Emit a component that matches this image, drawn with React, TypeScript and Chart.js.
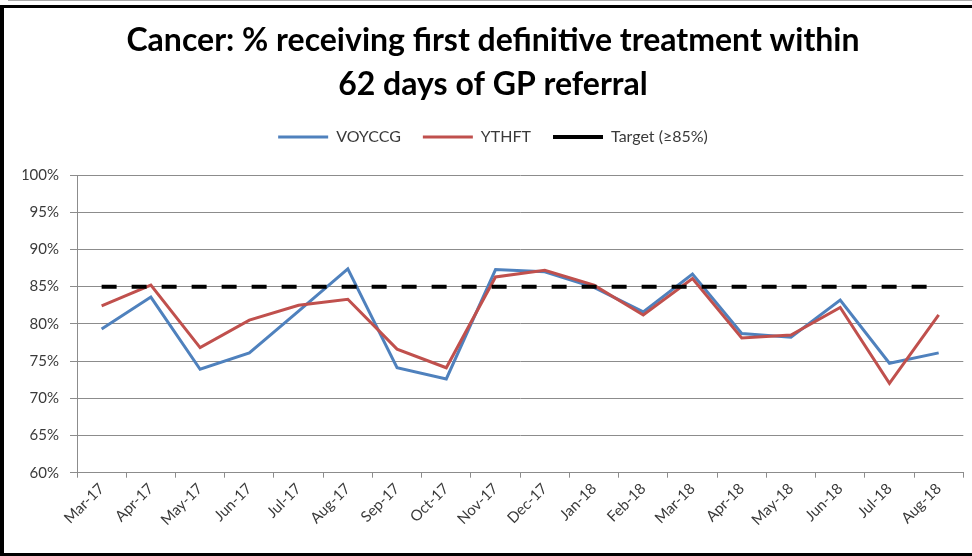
import React, { useEffect, useRef } from 'react';
import { Chart, registerables } from 'chart.js';

Chart.register(...registerables);

const categories = [
  'Mar-17', 'Apr-17', 'May-17', 'Jun-17', 'Jul-17', 'Aug-17', 'Sep-17', 'Oct-17', 'Nov-17',
  'Dec-17', 'Jan-18', 'Feb-18', 'Mar-18', 'Apr-18', 'May-18', 'Jun-18', 'Jul-18', 'Aug-18',
];
const voyccg = [79.3, 83.6, 73.9, 76.1, 81.7, 87.4, 74.1, 72.6, 87.3, 87.0, 84.9, 81.6, 86.7, 78.7, 78.2, 83.2, 74.7, 76.1];
const ythft = [82.4, 85.2, 76.8, 80.5, 82.5, 83.3, 76.6, 74.1, 86.3, 87.2, 85.2, 81.2, 86.1, 78.1, 78.5, 82.2, 72.0, 81.2];
const target = [85, 85, 85, 85, 85, 85, 85, 85, 85, 85, 85, 85, 85, 85, 85, 85, 85, 85];
const titleLines = ['Cancer: % receiving first definitive treatment within', '62 days of GP referral'];
const yMin = 60;
const yMax = 100;
const yStep = 5;

const FONT = 'Lato';
const TEXT = '#3a3a3a';
const GRID = '#8c8c8c';

export default function App() {
  const ref = useRef<HTMLCanvasElement | null>(null);

  useEffect(() => {
    if (!ref.current) return;
    const chart = new Chart(ref.current, {
      type: 'line',
      data: {
        labels: categories,
        datasets: [
          {
            label: 'VOYCCG',
            data: voyccg,
            borderColor: '#4F81BD',
            backgroundColor: '#4F81BD',
            borderWidth: 3,
            pointRadius: 0,
            tension: 0,
            order: 3,
          },
          {
            label: 'YTHFT',
            data: ythft,
            borderColor: '#C0504D',
            backgroundColor: '#C0504D',
            borderWidth: 3,
            pointRadius: 0,
            tension: 0,
            order: 2,
          },
          {
            label: 'Target (≥85%)',
            data: target,
            borderColor: '#000000',
            backgroundColor: '#000000',
            borderWidth: 4,
            borderDash: [15, 15],
            pointRadius: 0,
            tension: 0,
            order: 1,
          },
        ],
      },
      options: {
        animation: false,
        responsive: false,
        devicePixelRatio: 1,
        layout: { padding: { left: 18.7, right: 18.7, top: 0, bottom: 0 } },
        plugins: {
          tooltip: { enabled: false },
          title: {
            display: true,
            text: titleLines,
            color: '#000000',
            font: { family: FONT, size: 32, weight: 'bold', lineHeight: 1.375 },
            padding: { top: 11, bottom: 0 },
          },
          subtitle: {
            display: true,
            text: '',
            weight: 500,
            font: { size: 1, lineHeight: 1 },
            padding: { top: 19, bottom: 0 },
          },
          legend: {
            display: true,
            position: 'top',
            labels: {
              usePointStyle: true,
              pointStyle: 'line',
              pointStyleWidth: 50,
              padding: 22,
              color: TEXT,
              font: { family: FONT, size: 16 },
              sort: (a: any, b: any) => a.datasetIndex - b.datasetIndex,
            },
          },
        },
        scales: {
          x: {
            offset: true,
            grid: {
              offset: true,
              drawOnChartArea: false,
              drawTicks: true,
              tickLength: 5,
              color: GRID,
              lineWidth: 1,
            },
            border: { color: GRID, width: 1 },
            ticks: {
              autoSkip: false,
              minRotation: 45,
              maxRotation: 45,
              padding: 2,
              color: TEXT,
              font: { family: FONT, size: 15 },
            },
            afterFit: (s: any) => {
              s.height = 80.3;
            },
          },
          y: {
            min: yMin,
            max: yMax,
            ticks: {
              stepSize: yStep,
              padding: 11,
              color: TEXT,
              font: { family: FONT, size: 15 },
              callback: (v: any) => `${v}%`,
            },
            grid: { color: GRID, lineWidth: 1, tickLength: 7 },
            border: { color: GRID, width: 1 },
            afterFit: (s: any) => {
              s.width = 54.3;
            },
          },
        },
      },
    } as any);
    return () => chart.destroy();
  }, []);

  return (
    <div style={{ position: 'absolute', left: 0, top: 0, width: 972, height: 556, overflow: 'hidden', background: '#fff' }}>
      <div style={{ position: 'absolute', left: 8, right: 0, top: 0, height: 1, background: '#a8a8a8' }} />
      <div
        style={{
          position: 'absolute',
          left: 0,
          top: 5,
          width: 1000,
          height: 545,
          borderLeft: '4px solid #000',
          borderTop: '3px solid #000',
          borderBottom: '3px solid #000',
        }}
      />
      <canvas ref={ref} width={978} height={545} style={{ position: 'absolute', left: 4, top: 8, width: 978, height: 545, display: 'block' }} />
    </div>
  );
}
